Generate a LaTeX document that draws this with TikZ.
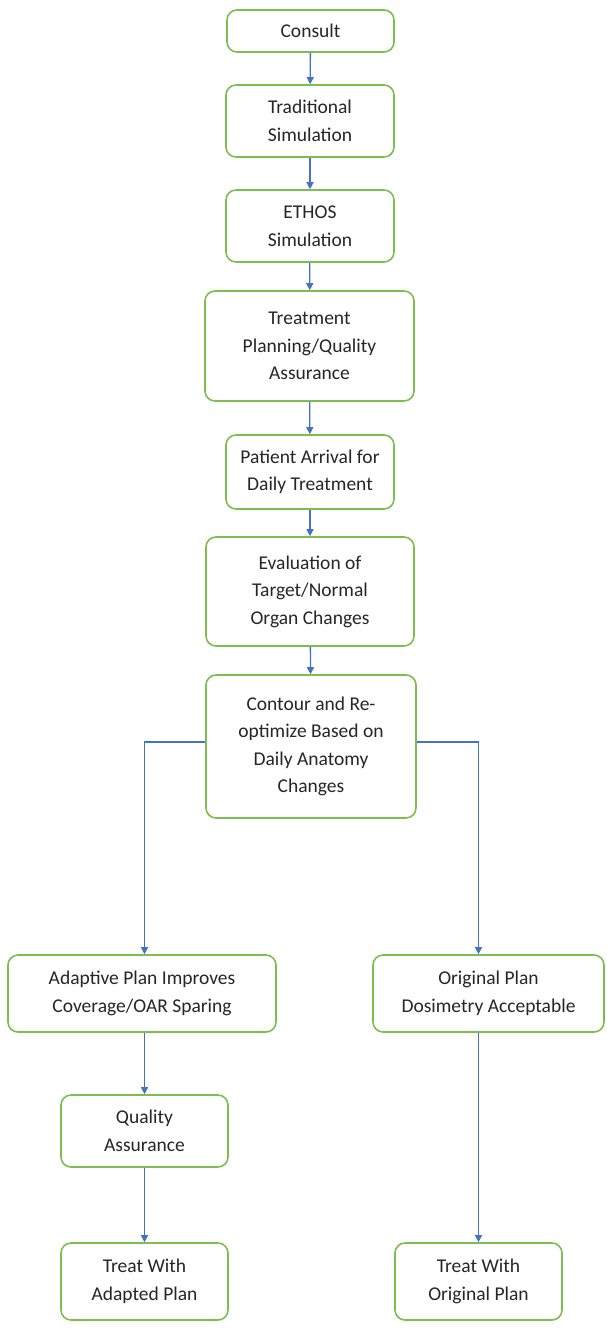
\documentclass[tikz,border=0pt]{standalone}
\usepackage{fontspec}
\setmainfont{Carlito}
\usetikzlibrary{arrows.meta,calc}
\definecolor{boxgreen}{RGB}{126,190,80}
\definecolor{arrowblue}{RGB}{68,114,196}
\begin{document}
\begin{tikzpicture}[x=1pt,y=-1pt,
  box/.style={draw=boxgreen,line width=1.6pt,rounded corners=10pt,fill=white,
    align=center,inner sep=2pt,font=\fontsize{19.5}{27.5}\selectfont,text=black!85},
  conn/.style={draw=arrowblue,line width=1.3pt,-{Triangle[length=7pt,width=7pt]}}]
\useasboundingbox[fill=white] (0,0) rectangle (606,1328);
\node[box,minimum width=167pt,minimum height=42pt] (consult) at (310.5,31) {Consult};
\node[box,minimum width=168pt,minimum height=72pt] (trad) at (310,121) {Traditional\\Simulation};
\node[box,minimum width=168pt,minimum height=72pt] (ethos) at (310,226) {ETHOS\\Simulation};
\node[box,minimum width=209pt,minimum height=110pt] (tpqa) at (309.5,346) {Treatment\\Planning/Quality\\Assurance};
\node[box,minimum width=168pt,minimum height=74pt] (arrival) at (310,472) {Patient Arrival for\\Daily Treatment};
\node[box,minimum width=208pt,minimum height=109pt] (eval) at (310,591.5) {Evaluation of\\Target/Normal\\Organ Changes};
\node[box,minimum width=210pt,minimum height=143pt] (contour) at (311,746.5) {Contour and Re-\\optimize Based on\\Daily Anatomy\\Changes};
\node[box,minimum width=268pt,minimum height=77pt] (adaptive) at (142,993.5) {Adaptive Plan Improves\\Coverage/OAR Sparing};
\node[box,minimum width=231pt,minimum height=77pt] (original) at (488.5,993.5) {Original Plan\\Dosimetry Acceptable};
\node[box,minimum width=167pt,minimum height=72pt] (qa) at (144.5,1131) {Quality\\Assurance};
\node[box,minimum width=167pt,minimum height=77pt] (treatA) at (144.5,1281.5) {Treat With\\Adapted Plan};
\node[box,minimum width=167pt,minimum height=77pt] (treatO) at (478.5,1281.5) {Treat With\\Original Plan};
\coordinate (lb) at (adaptive.north -| qa);
\coordinate (rb) at (original.north -| treatO);
\coordinate (ob) at (original.south -| treatO);
\coordinate (ab) at (adaptive.south -| qa);
\coordinate (cw) at ($(contour.west)+(0,-4.5)$);
\coordinate (ce) at ($(contour.east)+(0,-4.5)$);
\draw[conn] (consult) -- (trad);
\draw[conn] (trad) -- (ethos);
\draw[conn] (ethos) -- (tpqa);
\draw[conn] (tpqa) -- (arrival);
\draw[conn] (arrival) -- (eval);
\draw[conn] (eval) -- (contour);
\draw[conn] (cw) -| (lb);
\draw[conn] (ce) -| (rb);
\draw[conn] (ab) -- (qa);
\draw[conn] (qa) -- (treatA);
\draw[conn] (ob) -- (treatO);
\end{tikzpicture}
\end{document}
